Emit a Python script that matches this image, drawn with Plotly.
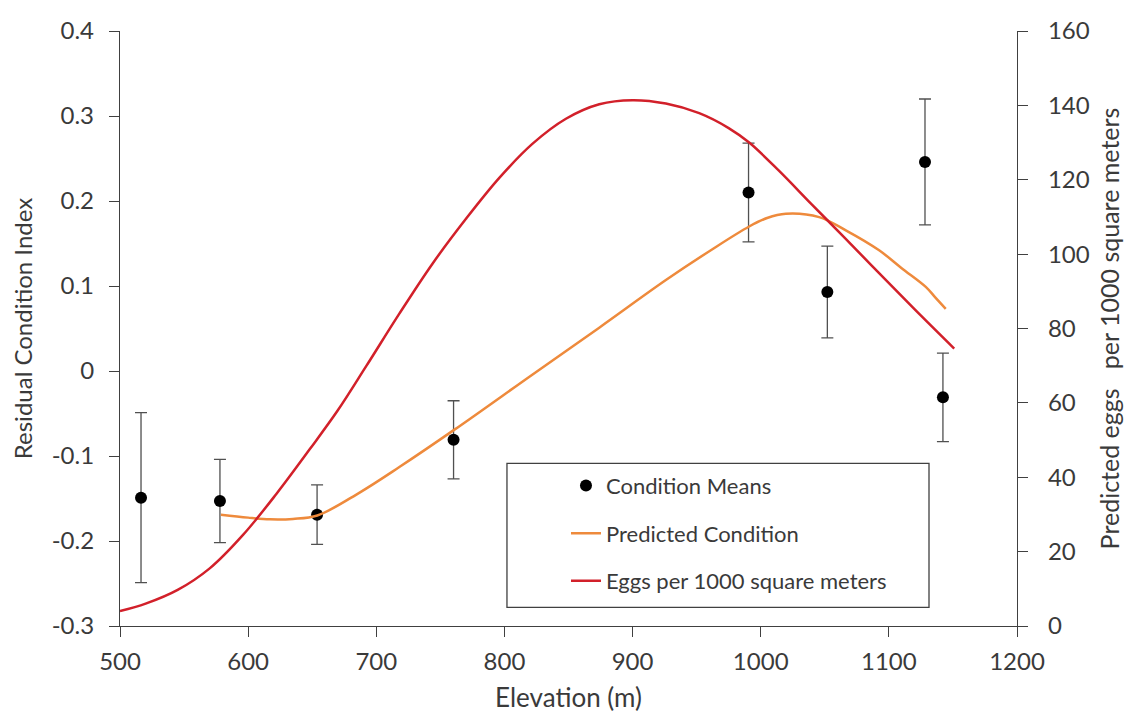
import plotly.graph_objects as go

# Condition means with error bars (left axis)
mean_x = [516.4, 578, 653.8, 760.3, 990.5, 1052, 1128.2, 1142.2]
mean_y = [-0.149, -0.153, -0.169, -0.081, 0.210, 0.093, 0.246, -0.031]
mean_err = [0.100, 0.049, 0.035, 0.046, 0.058, 0.054, 0.074, 0.052]

# Predicted condition (left axis)
pred_x = [578.7, 600, 617, 635, 654, 687, 718, 761, 822, 874, 926, 962, 991, 1005, 1019.6,
          1045.6, 1066.4, 1092.4, 1110, 1128.8, 1136, 1144.4]
pred_y = [-0.169, -0.1725, -0.1745, -0.174, -0.170, -0.143, -0.113, -0.069, -0.004, 0.051, 0.107,
          0.143, 0.170, 0.180, 0.185, 0.181, 0.1655, 0.142, 0.121, 0.099, 0.087, 0.073]

# Eggs per 1000 square meters (right axis)
egg_x = [500, 520, 545, 570, 596, 622, 648, 670, 692, 718, 744, 770, 796, 822, 848, 874, 900,
         926, 952, 975, 991, 1014, 1040, 1065, 1092, 1120, 1151]
egg_y = [4.0, 6.0, 9.7, 15.5, 24.5, 35.5, 47.5, 58.0, 69.8, 84.0, 97.5, 109.5, 120.5, 129.7,
         136.4, 140.3, 141.4, 140.5, 137.9, 133.9, 130.0, 122.5, 113.3, 104.6, 95.0, 85.2, 74.6]

x_ticks = [500, 600, 700, 800, 900, 1000, 1100, 1200]
left_ticks = [-0.3, -0.2, -0.1, 0, 0.1, 0.2, 0.3, 0.4]
left_labels = ["-0.3", "-0.2", "-0.1", "0", "0.1", "0.2", "0.3", "0.4"]
right_ticks = [0, 20, 40, 60, 80, 100, 120, 140, 160]

FONT = "Lato"
AX = "#404040"
TXT = "#3a3a3a"

fig = go.Figure()
fig.add_trace(go.Scatter(
    x=mean_x, y=mean_y, mode="markers", name="Condition Means",
    marker=dict(color="black", size=12),
    error_y=dict(type="data", array=mean_err, color="#505050", thickness=1.3, width=6),
    legendgroup="a",
))
fig.add_trace(go.Scatter(
    x=pred_x, y=pred_y, mode="lines", name="Predicted Condition",
    line=dict(color="#EE8A3C", width=2.5, shape="spline", smoothing=1.0),
    legendgroup="b",
))
fig.add_trace(go.Scatter(
    x=egg_x, y=egg_y, mode="lines", name="Eggs per 1000 square meters",
    line=dict(color="#D2202A", width=2.5, shape="spline", smoothing=1.0),
    yaxis="y2", legendgroup="c",
))

# legend frame
fig.add_shape(type="rect", xref="paper", yref="paper",
              x0=0.4314, x1=0.9019, y0=0.0314, y1=0.2734,
              line=dict(color="#404040", width=1.3), fillcolor="white", layer="below")

fig.update_layout(
    width=1116, height=705,
    margin=dict(l=112, r=107, t=23, b=87, autoexpand=False),
    paper_bgcolor="white", plot_bgcolor="white",
    font=dict(family=FONT, color=TXT, size=24),
    showlegend=True,
    legend=dict(
        x=0.4972, y=0.271, xanchor="left", yanchor="top",
        borderwidth=0, bgcolor="rgba(0,0,0,0)",
        font=dict(family=FONT, size=22, color=TXT),
        tracegroupgap=16,
        traceorder="grouped",
    ),
    xaxis=dict(
        range=[500, 1200], tickvals=x_ticks, ticktext=[str(v) for v in x_ticks],
        showgrid=False, zeroline=False, showline=True, linecolor=AX, linewidth=1.3,
        ticks="outside", ticklen=10, tickcolor=AX, tickfont=dict(size=24),
        ticklabelstandoff=4, automargin=False,
        title=dict(text="Elevation (m)", font=dict(size=26), standoff=22),
    ),
    yaxis=dict(
        range=[-0.3, 0.4], tickvals=left_ticks, ticktext=left_labels,
        showgrid=False, zeroline=False, showline=True, linecolor=AX, linewidth=1.3,
        ticks="outside", ticklen=10, tickcolor=AX, tickfont=dict(size=24),
        ticklabelstandoff=10, automargin=False,
        title=dict(text="Residual Condition Index", font=dict(size=24), standoff=14),
    ),
    yaxis2=dict(
        range=[0, 160], tickvals=right_ticks, ticktext=[str(v) for v in right_ticks],
        overlaying="y", side="right",
        showgrid=False, zeroline=False, showline=True, linecolor=AX, linewidth=1.3,
        ticks="outside", ticklen=10, tickcolor=AX, tickfont=dict(size=24),
        ticklabelstandoff=15, automargin=False,
        title=dict(text="Predicted eggs\u00a0\u00a0 per 1000 square meters", font=dict(size=25), standoff=13),
    ),
)

fig.write_html("out.html")
